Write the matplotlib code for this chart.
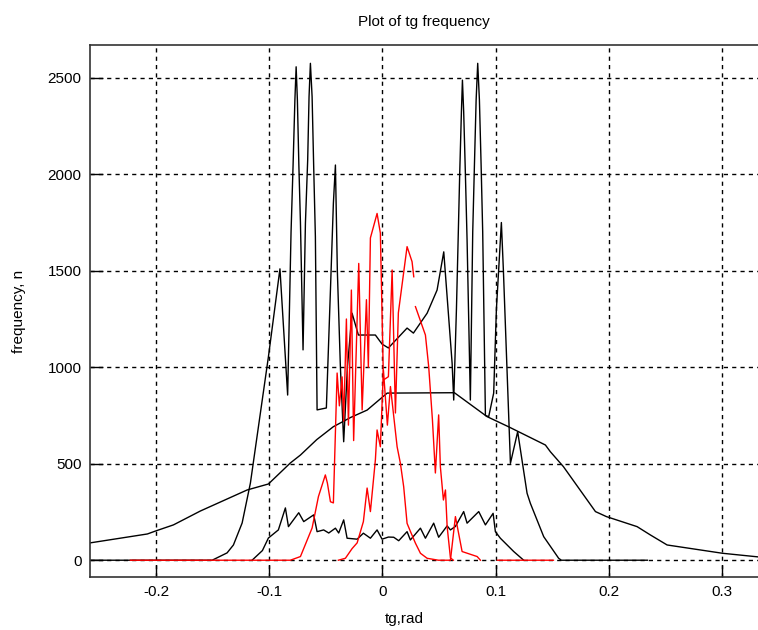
import numpy as np
import matplotlib
matplotlib.use("Agg")
import matplotlib.pyplot as plt

# Broad smooth black distribution
a_x = [-0.2580, -0.2076, -0.1996, -0.1846, -0.1608, -0.1195, -0.1007, -0.0813, -0.0724,
       -0.0580, -0.0433, -0.0280, -0.0135, 0.0042, 0.0636, 0.0925, 0.1113, 0.1440, 0.1484,
       0.1599, 0.1882, 0.1979, 0.2250, 0.2367, 0.2515, 0.3004, 0.3322]
a_y = [90, 136, 153, 183, 255, 364, 395, 504, 545, 625, 692, 740, 778, 866, 868, 744, 692,
       597, 562, 485, 252, 226, 174, 131, 79, 36, 17]

# Tall spiky black distribution
b_x = [-0.2580, -0.1504, -0.1372, -0.1316, -0.1239, -0.1166, -0.1095, -0.1007, -0.0905,
       -0.0837, -0.0807, -0.0789, -0.0773, -0.0762, -0.0751, -0.0738, -0.0724, -0.0701,
       -0.0680, -0.0660, -0.0648, -0.0636, -0.0621, -0.0607, -0.0592, -0.0577, -0.0495,
       -0.0459, -0.0433, -0.0415, -0.0398, -0.0371, -0.0342, -0.0309, -0.0268, -0.0212,
       -0.0062, -0.0003, 0.0053, 0.0218, 0.0274, 0.0395, 0.0483, 0.0542, 0.0616, 0.0630,
       0.0654, 0.0669, 0.0683, 0.0698, 0.0707, 0.0718, 0.0733, 0.0748, 0.0777, 0.0798,
       0.0813, 0.0828, 0.0842, 0.0857, 0.0872, 0.0886, 0.0910, 0.0939, 0.0983, 0.1007,
       0.1051, 0.1069, 0.1131, 0.1195, 0.1278, 0.1307, 0.1425, 0.1557, 0.1581, 0.2341]
b_y = [0, 0, 38, 79, 193, 400, 692, 1054, 1510,
       856, 1700, 2048, 2385, 2557, 2385, 2048, 1750, 1090,
       1747, 2074, 2402, 2575, 2402, 2040, 1676, 779, 789,
       1400, 1850, 2048, 1500, 1000, 614, 1000, 1280, 1167,
       1167, 1120, 1100, 1203, 1177, 1280, 1400, 1598, 1020, 830,
       1300, 1660, 2005, 2324, 2488, 2324, 2005, 1660, 830, 1702,
       2048, 2385, 2575, 2385, 2048, 1702, 750, 744, 866, 1300,
       1750, 1500, 502, 666, 347, 295, 122, 10, 0, 0]

# Low jagged black distribution
d_x = [-0.1151, -0.1060, -0.1007, -0.0919, -0.0857, -0.0830, -0.0739, -0.0695, -0.0607,
       -0.0577, -0.0519, -0.0474, -0.0415, -0.0386, -0.0342, -0.0312, -0.0223, -0.0168,
       -0.0106, -0.0047, -0.0003, 0.0053, 0.0100, 0.0144, 0.0218, 0.0247, 0.0336, 0.0380,
       0.0453, 0.0497, 0.0572, 0.0601, 0.0645, 0.0718, 0.0748, 0.0851, 0.0910, 0.0978,
       0.0998, 0.1042, 0.1160, 0.1248]
d_y = [0, 50, 115, 157, 271, 174, 246, 200, 235,
       148, 157, 141, 166, 141, 209, 114, 109, 140,
       114, 157, 109, 120, 119, 101, 148, 105, 166, 114,
       192, 119, 178, 157, 175, 252, 192, 252, 183, 243,
       148, 114, 45, 0]

# Red distribution 1 (with a break)
r1_x = [-0.2226, -0.0813, -0.0724, -0.0621, -0.0565, -0.0504, -0.0486, -0.0459, -0.0433,
        -0.0400, -0.0380, -0.0356, -0.0342, -0.0318, -0.0300, -0.0274, -0.0254, -0.0209,
        -0.0179, -0.0141, -0.0124, -0.0106, -0.0047, -0.0018, 0.0009, 0.0053, 0.0086,
        0.0115, 0.0141, 0.0218, 0.0262, 0.0277, np.nan,
        0.0292, 0.0380, 0.0409, 0.0442, 0.0468, 0.0497, 0.0512, 0.0539, 0.0557, 0.0572,
        0.0601, 0.0627]
r1_y = [0, 0, 19, 167, 330, 442, 400, 303, 297,
        970, 800, 950, 720, 1250, 700, 1400, 620, 1538,
        779, 1350, 1000, 1670, 1797, 1695, 934, 951, 1504,
        763, 1282, 1625, 1547, 1469, np.nan,
        1314, 1167, 1003, 727, 452, 753, 485, 312, 364, 174,
        12, 0]

# Red distribution 2 (narrow, with a break)
r2_x = [-0.0389, -0.0327, -0.0268, -0.0223, -0.0168, -0.0135, -0.0106, -0.0062, -0.0047,
        -0.0018, 0.0009, 0.0044, 0.0071, 0.0130, 0.0159, 0.0188, 0.0218, 0.0247, 0.0292,
        0.0336, 0.0395, 0.0495, 0.0601, 0.0645, 0.0704, 0.0837, 0.0866, np.nan,
        0.1016, 0.1511]
r2_y = [0, 10, 60, 90, 200, 374, 252, 520, 675,
        588, 985, 700, 900, 588, 502, 381, 191, 150, 88,
        36, 10, 0, 0, 226, 45, 19, 0, np.nan,
        0, 0]

x_ticks = [-0.2, -0.1, 0, 0.1, 0.2, 0.3]
x_tick_labels = ["-0.2", "-0.1", "0", "0.1", "0.2", "0.3"]
y_ticks = [0, 500, 1000, 1500, 2000, 2500]
y_tick_labels = ["0", "500", "1000", "1500", "2000", "2500"]

plt.rcParams['font.family'] = ['Liberation Sans', 'DejaVu Sans']

fig = plt.figure(figsize=(7.58, 6.30), dpi=100)
ax = fig.add_axes([90/758, 53/630, 668/758, 532/630])

lw = 1.0
ax.plot(a_x, a_y, color='black', lw=lw)
ax.plot(b_x, b_y, color='black', lw=lw)
ax.plot(d_x, d_y, color='black', lw=lw)
ax.plot(r1_x, r1_y, color='red', lw=lw)
ax.plot(r2_x, r2_y, color='red', lw=lw)

ax.set_xlim(-0.2583, 0.3318)
ax.set_ylim(-87, 2670)
ax.set_xticks(x_ticks)
ax.set_xticklabels(x_tick_labels)
ax.set_yticks(y_ticks)
ax.set_yticklabels(y_tick_labels)
ax.grid(True, color='black', linestyle=(0, (3, 3)), linewidth=1.0)
ax.set_axisbelow(True)
ax.tick_params(direction='in', length=9, width=1, labelsize=11, colors='black', pad=6)
for side in ['left', 'bottom', 'top']:
    ax.spines[side].set_color('#333333')
    ax.spines[side].set_linewidth(1.2)
ax.spines['right'].set_visible(False)

ax.set_title("Plot of tg frequency", fontsize=11, pad=14)
ax.set_xlabel("tg,rad", fontsize=11)
ax.xaxis.set_label_coords(0.47, -0.065)
ax.set_ylabel("frequency, n", fontsize=11)
ax.yaxis.set_label_coords(-0.096, 0.5)

fig.savefig("out.png", dpi=100)
